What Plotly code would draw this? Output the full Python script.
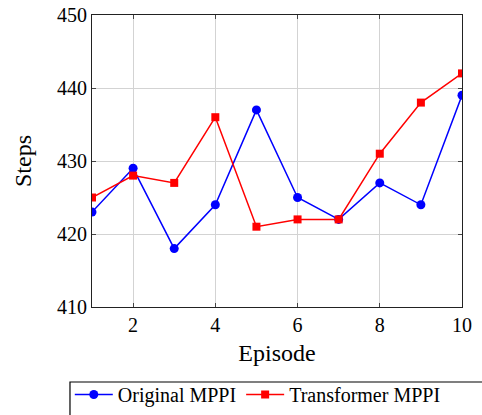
import plotly.graph_objects as go

episodes = [1, 2, 3, 4, 5, 6, 7, 8, 9, 10]
original_mppi = [423, 429, 418, 424, 437, 425, 422, 427, 424, 439]
transformer_mppi = [425, 428, 427, 436, 421, 422, 422, 431, 438, 442]
x_ticks = [2, 4, 6, 8, 10]
y_ticks = [410, 420, 430, 440, 450]

font = "Liberation Serif"

fig = go.Figure()
fig.add_trace(go.Scatter(
    x=episodes, y=original_mppi, name="Original MPPI", mode="lines+markers",
    line=dict(color="#0000ff", width=1.5),
    marker=dict(symbol="circle", size=9, color="#0000ff"),
))
fig.add_trace(go.Scatter(
    x=episodes, y=transformer_mppi, name="Transformer MPPI", mode="lines+markers",
    line=dict(color="#ff0000", width=1.5),
    marker=dict(symbol="square", size=8, color="#ff0000"),
))

axis_common = dict(
    showgrid=True, gridcolor="#d3d3d3", gridwidth=1,
    showline=True, linecolor="#222222", linewidth=1.2, mirror="ticks",
    ticks="inside", ticklen=4, tickcolor="#444444",
    zeroline=False,
    tickfont=dict(family=font, size=20, color="black"),
)

fig.update_layout(
    width=482, height=415,
    margin=dict(l=92, r=20, t=15, b=108, autoexpand=False),
    paper_bgcolor="white", plot_bgcolor="white",
    font=dict(family=font, color="black"),
    xaxis=dict(range=[1, 10], tickvals=x_ticks,
               title=dict(text="Episode", font=dict(family=font, size=24), standoff=9),
               **axis_common),
    yaxis=dict(range=[410, 450], tickvals=y_ticks,
               title=dict(text="Steps", font=dict(family=font, size=24), standoff=18),
               **axis_common),
    legend=dict(
        orientation="h", x=-0.06, y=-0.233, xanchor="left", yanchor="top",
        borderwidth=0, bgcolor="rgba(0,0,0,0)",
        font=dict(family=font, size=20, color="black"),
        itemwidth=38, tracegroupgap=0,
    ),
    shapes=[dict(type="rect", xref="paper", yref="paper",
                 x0=-0.0595, x1=1.1, y0=-0.2568, y1=-0.5,
                 line=dict(color="black", width=1.2), fillcolor="rgba(0,0,0,0)",
                 layer="below")],
    showlegend=True,
)

fig.write_html("out.html")
